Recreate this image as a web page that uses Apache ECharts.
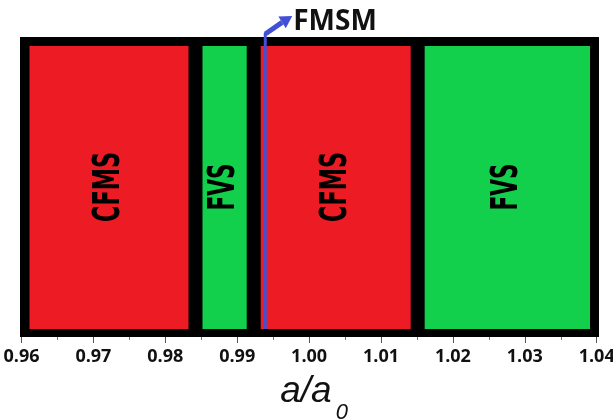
<!DOCTYPE html>
<html><head><meta charset="utf-8">
<script src="https://cdn.jsdelivr.net/npm/echarts@6/dist/echarts.min.js"></script>
<style>html,body{margin:0;padding:0;background:#fff}#c{width:613px;height:420px}</style>
</head><body><div id="c"></div>
<script>
// ---- data ----
const tickLabels = ['0.96','0.97','0.98','0.99','1.00','1.01','1.02','1.03','1.04'];
const phaseNames = ['CFMS', 'FVS', 'CFMS', 'FVS'];
const phaseStart = [0.960, 0.9842, 0.9923, 1.0151];
const phaseEnd   = [0.9842, 0.9923, 1.0151, 1.040];
const fmsmX = 0.9939;
const fmsmLabel = 'FMSM';
const axisTitle = 'a/a';
const axisTitleSub = '0';

// ---- styles ----
const phaseColor = { CFMS: '#ED1C24', FVS: '#12D04B' };
const labelLen = { CFMS: 70, FVS: 47 };
const xMin = parseFloat(tickLabels[0]);
const xMax = parseFloat(tickLabels[tickLabels.length - 1]);
const phaseFont = 'bold 38px "Liberation Sans Narrow", "DejaVu Sans Condensed", "Liberation Sans", sans-serif';

const mctx = document.createElement('canvas').getContext('2d');
mctx.font = phaseFont;
function measure(t){ return mctx.measureText(t).width; }

const phaseData = phaseNames.map((n, i) => [phaseStart[i], phaseEnd[i], n]);

const chart = echarts.init(document.getElementById('c'), null, {renderer: 'canvas'});
chart.setOption({
  animation: false,
  grid: { left: 21.5, right: 16.3, top: 37, bottom: 83, containLabel: false, outerBoundsMode: 'none' },
  xAxis: {
    type: 'value', min: xMin, max: xMax, interval: 0.01,
    axisLine: { show: false },
    axisTick: { show: true, length: 6, lineStyle: { color: '#555', width: 1 } },
    minorTick: { show: true, splitNumber: 2, length: 3, lineStyle: { color: '#777', width: 1 } },
    splitLine: { show: false },
    axisLabel: {
      margin: 11, color: '#111', fontWeight: 'bold', fontSize: 18,
      fontFamily: '"Open Sans", "Noto Sans", sans-serif',
      formatter: v => { const s = v.toFixed(2); return tickLabels.includes(s) ? s : ''; }
    },
    name: '{a|' + axisTitle + '}{s|' + axisTitleSub + '}',
    nameLocation: 'middle', nameGap: 35, nameMoveOverlap: false,
    nameTextStyle: {
      rich: {
        a: { fontSize: 37, fontStyle: 'italic', fontFamily: '"Liberation Sans", Arial, sans-serif', color: '#111', lineHeight: 40, padding: [0, 0, 0, 10] },
        s: { fontSize: 22, fontStyle: 'italic', fontFamily: '"Liberation Sans", Arial, sans-serif', color: '#111', verticalAlign: 'bottom', padding: [0, 0, -12, 4], lineHeight: 40 }
      }
    }
  },
  yAxis: { type: 'value', min: 0, max: 1, show: false },
  series: [
    {
      type: 'custom',
      data: phaseData,
      renderItem: (params, api) => {
        const s = api.value(0), e = api.value(1);
        const name = phaseNames[params.dataIndex];
        const p0 = api.coord([s, 1]);
        const p1 = api.coord([e, 0]);
        const x0 = p0[0] - (s === xMin ? 1.5 : 0);
        const x1 = p1[0] + (e === xMax ? 2.3 : 0);
        const y0 = p0[1], y1 = p1[1];
        const li = s === xMin ? 9.5 : 7;
        const ri = e === xMax ? 9 : 7;
        const ti = 9, bi = 8;
        const cx = (x0 + li + x1 - ri) / 2;
        const cy = api.coord([s, 0.5])[1];
        const sc = labelLen[name] / measure(name);
        const ovL = s === xMin ? 0 : 1.5, ovR = e === xMax ? 0 : 1.5;
        return {
          type: 'group',
          children: [
            { type: 'rect', shape: { x: x0 - ovL, y: y0, width: x1 - x0 + ovL + ovR, height: y1 - y0 }, style: { fill: '#000' } },
            { type: 'rect', shape: { x: x0 + li, y: y0 + ti, width: x1 - x0 - li - ri, height: y1 - y0 - ti - bi }, style: { fill: phaseColor[name] } },
            { type: 'text', x: cx, y: cy, rotation: Math.PI / 2, scaleX: sc, scaleY: 1,
              style: { text: name, font: phaseFont, fill: '#000', align: 'center', verticalAlign: 'middle' } }
          ]
        };
      },
      z: 2
    },
    {
      type: 'custom',
      data: [[fmsmX]],
      renderItem: (params, api) => {
        const top = api.coord([api.value(0), 1]);
        const bot = api.coord([api.value(0), 0]);
        const x = top[0];
        const yt = top[1] - 4;
        const tip = [x + 27, top[1] - 21];
        const ang = Math.atan2(tip[1] - yt, tip[0] - x);
        const hl = 12, hw = 7;
        const bx = tip[0] - hl * Math.cos(ang), by = tip[1] - hl * Math.sin(ang);
        const nx = -Math.sin(ang), ny = Math.cos(ang);
        return {
          type: 'group',
          children: [
            { type: 'line', shape: { x1: x, y1: bot[1] - 8, x2: x, y2: yt }, style: { stroke: '#4150D6', lineWidth: 3 } },
            { type: 'line', shape: { x1: x, y1: yt + 1, x2: bx, y2: by }, style: { stroke: '#4150D6', lineWidth: 5 } },
            { type: 'polygon', shape: { points: [tip, [bx + nx * hw, by + ny * hw], [bx - nx * hw, by - ny * hw]] }, style: { fill: '#4150D6' } },
            { type: 'text', x: tip[0] + 1, y: tip[1] + 6, style: { text: fmsmLabel, font: 'bold 28px "Open Sans", "Noto Sans", sans-serif', fill: '#111', align: 'left', verticalAlign: 'middle' } }
          ]
        };
      },
      z: 3
    }
  ]
});
</script></body></html>
